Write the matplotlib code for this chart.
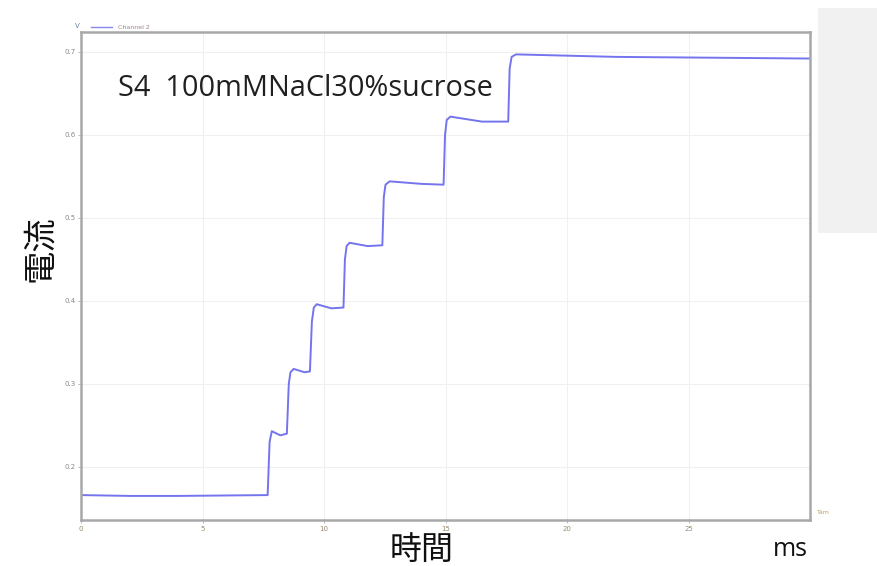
import matplotlib
matplotlib.use("Agg")
import matplotlib.pyplot as plt
from matplotlib.patches import Rectangle

# =============================================================================
# DATA
# =============================================================================
time_ms = [0, 2.0, 4.0, 7.68,
           7.76, 7.85, 8.2, 8.47,
           8.55, 8.62, 8.75, 9.2, 9.42,
           9.5, 9.58, 9.7, 10.3, 10.8,
           10.86, 10.93, 11.05, 11.8, 12.4,
           12.46, 12.53, 12.7, 14.0, 14.92,
           14.98, 15.05, 15.2, 16.5, 17.58,
           17.64, 17.72, 17.9, 22.0, 26.0, 30.0]
current = [0.166, 0.165, 0.165, 0.166,
           0.230, 0.243, 0.238, 0.240,
           0.300, 0.314, 0.318, 0.314, 0.315,
           0.375, 0.392, 0.396, 0.391, 0.392,
           0.450, 0.466, 0.470, 0.466, 0.467,
           0.525, 0.540, 0.544, 0.541, 0.540,
           0.600, 0.618, 0.622, 0.616, 0.616,
           0.680, 0.694, 0.697, 0.694, 0.693, 0.692]

x_ticks = [0, 5, 10, 15, 20, 25]
y_ticks = [0.2, 0.3, 0.4, 0.5, 0.6, 0.7]

# =============================================================================
# PLOT
# =============================================================================
fig = plt.figure(figsize=(8.77, 5.66), dpi=100)
ax = fig.add_axes([0.0924, 0.0813, 0.8312, 0.8622])

ax.plot(time_ms, current, color='#7474ee', lw=1.4, label='Channel 2')
ax.set_xlim(0, 30)
ax.set_ylim(0.136, 0.724)

ax.set_xticks(x_ticks)
ax.set_yticks(y_ticks)
ax.set_xticklabels([str(v) for v in x_ticks], fontsize=5, color='#9a8a70')
ax.set_yticklabels(['%.1f' % v for v in y_ticks], fontsize=5, color='#8a8a8a')
ax.tick_params(length=2, width=0.6, color='#b0b0b0', pad=2)
ax.grid(True, color='#f0f0f0', lw=0.8)

for side in ['top', 'right', 'bottom', 'left']:
    ax.spines[side].set_color('#a8a8a8')
    ax.spines[side].set_linewidth(1.8)

# small legend and unit markers like the instrument software
fig.text(0.086, 0.950, 'V', fontsize=5, color='#7080a0')
fig.lines.append(plt.Line2D([0.104, 0.128], [0.953, 0.953],
                            transform=fig.transFigure, color='#8888ee', lw=1))
fig.text(0.135, 0.948, 'Channel 2', fontsize=4.5, color='#a08080')
fig.text(0.931, 0.092, 'Tam', fontsize=4.5, color='#c0a060')

# grey panel on the right
fig.patches.append(Rectangle((0.933, 0.588), 0.067, 0.398,
                             transform=fig.transFigure,
                             facecolor='#f1f1f1', edgecolor='none'))

ax.text(0.051, 0.885, 'S4  100mMNaCl30%sucrose', transform=ax.transAxes,
        va='center', fontsize=20.8, family='Open Sans', color='#202020')

fig.text(0.046, 0.56, '電流', rotation=90, ha='center', va='center',
         fontsize=24, family=['Noto Sans CJK JP', 'DejaVu Sans'], color='#101010')
fig.text(0.481, 0.029, '時間', ha='center', va='center',
         fontsize=23, family=['Noto Sans CJK JP', 'DejaVu Sans'], color='#101010')
fig.text(0.901, 0.030, 'ms', ha='center', va='center',
         fontsize=18, family='Open Sans', color='#101010')

fig.savefig('out.png', dpi=100)
